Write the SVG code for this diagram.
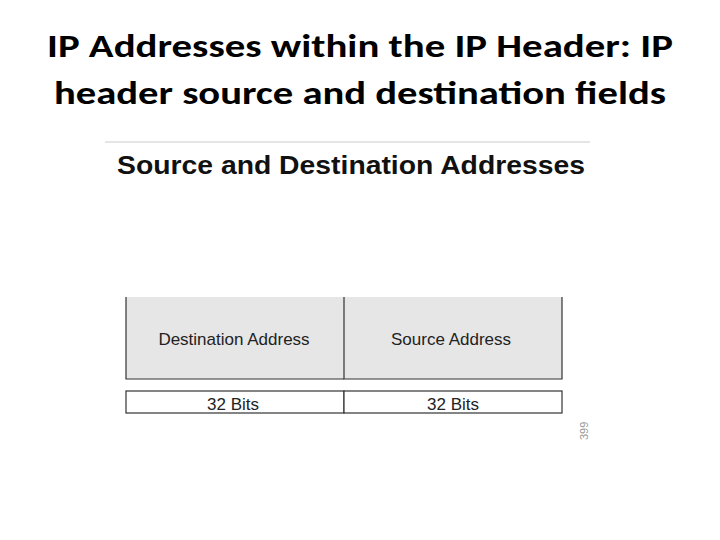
<svg xmlns="http://www.w3.org/2000/svg" width="720" height="540" viewBox="0 0 720 540">
<style>
.h{font-family:Carlito,"Open Sans","Liberation Sans",sans-serif;font-size:32px;font-weight:600;fill:#000;text-anchor:middle}
.t{font-family:"Liberation Sans",Arial,sans-serif;font-size:17px;fill:#222;text-anchor:middle}
.b{stroke:#333;stroke-width:1.2}
</style>
<rect width="720" height="540" fill="#fff"/>
<text class="h" x="360" y="57" textLength="626" lengthAdjust="spacingAndGlyphs">IP Addresses within the IP Header: IP</text>
<text class="h" x="360" y="104" textLength="612" lengthAdjust="spacingAndGlyphs">header source and destination fields</text>
<line x1="105" y1="142" x2="590" y2="142" stroke="#ddd" stroke-width="1.5"/>
<text x="351" y="174" font-family="'Liberation Sans',Arial,sans-serif" font-weight="bold" font-size="25" text-anchor="middle" fill="#111" textLength="468" lengthAdjust="spacingAndGlyphs">Source and Destination Addresses</text>
<g id="dest">
<rect x="126" y="297" width="218" height="82" fill="#e6e6e6"/>
<path class="b" fill="none" d="M126,297 V379 H344"/>
<text class="t" x="234" y="345">Destination Address</text>
</g>
<g id="src">
<rect x="344" y="297" width="218" height="82" fill="#e6e6e6"/>
<path class="b" fill="none" d="M344,297 V379 H562 V297"/>
<text class="t" x="451" y="345">Source Address</text>
</g>
<g id="bits1">
<rect class="b" x="126" y="391" width="218" height="22" fill="#fff"/>
<text class="t" x="233" y="410">32 Bits</text>
</g>
<g id="bits2">
<rect class="b" x="344" y="391" width="218" height="22" fill="#fff"/>
<text class="t" x="453" y="410">32 Bits</text>
</g>
<text transform="translate(588,440) rotate(-90)" font-family="'Liberation Sans',Arial,sans-serif" font-size="11" fill="#999">399</text>
</svg>
